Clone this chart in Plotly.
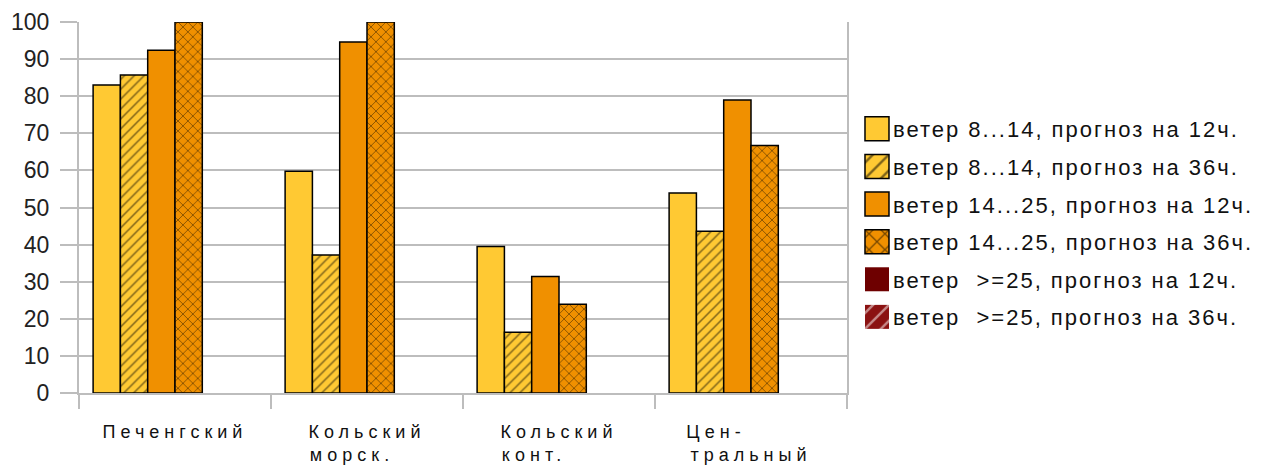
import plotly.graph_objects as go

NB = "\u00a0"
categories = [
    "Печенгский",
    "Кольский<br>морск." + NB * 3,
    "Кольский<br>конт." + NB * 5,
    "Цен-" + NB * 7 + "<br>тральный",
]
series_names = [
    "ветер 8...14, прогноз на 12ч.",
    "ветер 8...14, прогноз на 36ч.",
    "ветер 14...25, прогноз на 12ч.",
    "ветер 14...25, прогноз на 36ч.",
    "ветер  >=25, прогноз на 12ч.",
    "ветер  >=25, прогноз на 36ч.",
]
s1 = [83.0, 59.8, 39.5, 53.9]
s2 = [85.7, 37.2, 16.4, 43.6]
s3 = [92.4, 94.6, 31.4, 79.0]
s4 = [100, 100, 23.9, 66.7]
s5 = [0, 0, 0, 0]
s6 = [0, 0, 0, 0]
values = [s1, s2, s3, s4, s5, s6]
y_ticks = [0, 10, 20, 30, 40, 50, 60, 70, 80, 90, 100]

colors = ["#FFC933", "#FFC933", "#F09000", "#F09000", "#6E0000", "#8B1212"]
patterns = ["", "/", "", "x", "", "/"]
pat_fg = ["black", "black", "black", "black", "black", "white"]
line_w = [1.5, 1.5, 1.5, 1.5, 0, 0]

fig = go.Figure()
for i, (name, vals) in enumerate(zip(series_names, values)):
    fig.add_trace(go.Bar(
        x=categories, y=vals, name=name, legendgroup=f"g{i}",
        marker=dict(
            color=colors[i],
            line=dict(color="black", width=line_w[i]),
            pattern=dict(shape=patterns[i], fgcolor=pat_fg[i], bgcolor=colors[i],
                         size=7, solidity=0.22, fillmode="overlay") if patterns[i] else None,
        ),
    ))

fig.update_layout(
    width=1264, height=472,
    margin=dict(l=79, r=417, t=22, b=79),
    paper_bgcolor="white", plot_bgcolor="white",
    barmode="group", bargap=0.147, bargroupgap=0,
    font=dict(family="Liberation Sans, Arial, sans-serif", color="#222222"),
    showlegend=True,
    legend=dict(x=1.0078, y=0.768, xanchor="left", yanchor="top",
                font=dict(size=22, color="#111111"), tracegroupgap=6,
                bgcolor="rgba(0,0,0,0)", itemclick=False),
    xaxis=dict(
        showgrid=False, showline=True, linecolor="#BDBDBD", linewidth=2,
        ticks="outside", tickson="boundaries", ticklen=14, tickcolor="#BDBDBD", tickwidth=2,
        tickfont=dict(size=18, color="#111111"), ticklabelstandoff=21, automargin=False,
    ),
    yaxis=dict(
        range=[0, 100], tickvals=y_ticks, showgrid=True, gridcolor="#BDBDBD", gridwidth=2,
        showline=True, mirror=True, linecolor="#BDBDBD", linewidth=2,
        ticks="outside", ticklen=17, tickcolor="#BDBDBD", tickwidth=2,
        tickfont=dict(size=23, color="#222222"), ticklabelstandoff=6,
        zeroline=False, automargin=False,
    ),
)

post = """
document.querySelectorAll('.xtick text').forEach(function(t){t.style.letterSpacing='5px';});
document.querySelectorAll('.legend [clip-path]').forEach(function(e){e.removeAttribute('clip-path');});
document.querySelectorAll('.legendtext').forEach(function(t){t.style.letterSpacing='2px';});
document.querySelectorAll('.legendpoints path').forEach(function(p){
  p.setAttribute('transform','translate(24,0) scale(2)');
  p.style.strokeWidth='0.75px';
});
"""
fig.write_html("out.html", post_script=post)
